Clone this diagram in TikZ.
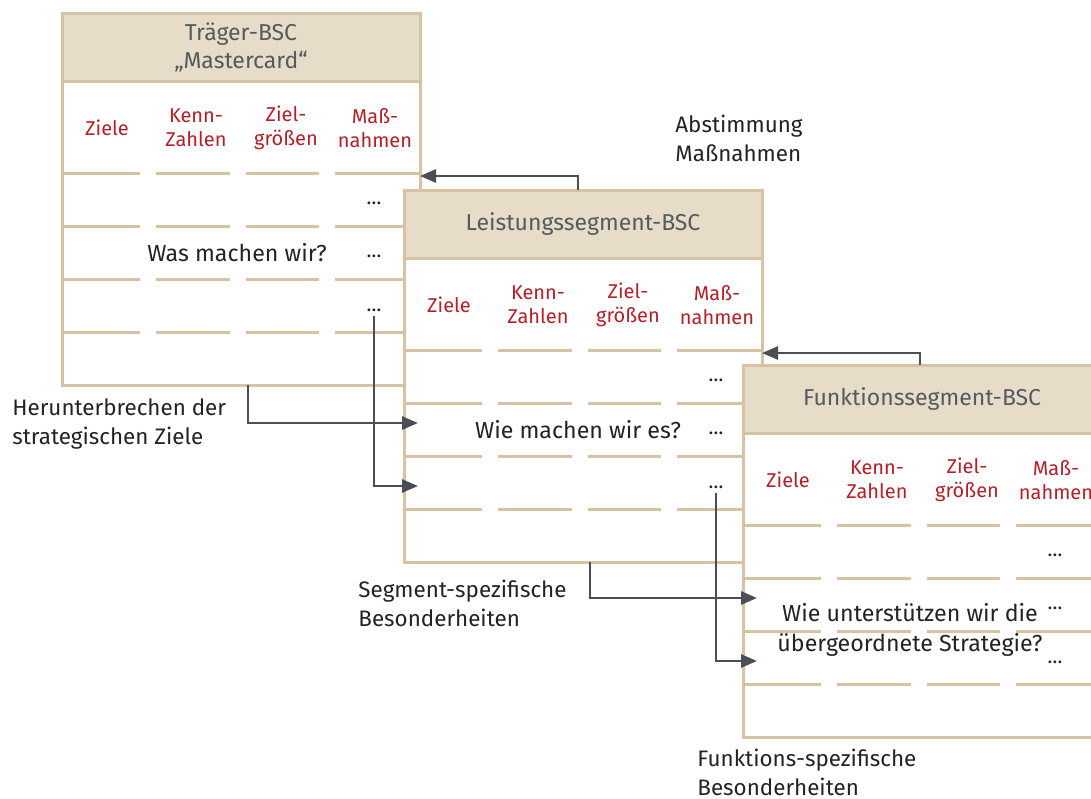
\documentclass[tikz,border=0pt]{standalone}
\usepackage{fontspec}
\setmainfont{Fira Sans}
\usepackage{xcolor}
\usepackage{tikz}
\usetikzlibrary{positioning,arrows.meta}
\definecolor{bscsand}{RGB}{215,194,163}
\definecolor{bschead}{RGB}{231,220,200}
\definecolor{bscred}{RGB}{180,32,40}
\definecolor{bscgray}{RGB}{85,90,96}
\definecolor{bscdark}{RGB}{35,35,35}
\definecolor{arrgray}{RGB}{74,79,85}
\tikzset{
  cardhead/.style={draw=bscsand, line width=1.5pt, fill=bschead, anchor=north west, outer sep=0pt, minimum width=179pt, minimum height=34pt, align=center, text=bscgray, font=\fontsize{11.5}{14}\selectfont},
  cardbody/.style={draw=bscsand, line width=1.5pt, fill=white, anchor=north west, outer sep=0pt, minimum width=179pt, minimum height=152pt},
  rowline/.style={draw=bscsand, line width=1.5pt},
  collabel/.style={align=center, text=bscred, font=\fontsize{10}{12}\selectfont},
  dotsnode/.style={text=bscdark, font=\fontsize{10}{12}\selectfont, inner sep=2pt},
  midtext/.style={align=center, text=bscdark, font=\fontsize{11.6}{15}\selectfont},
  note/.style={align=left, anchor=west, text=bscdark, font=\fontsize{11.2}{14.5}\selectfont, inner sep=0pt},
  arr/.style={-{Triangle[length=8pt,width=6.5pt]}, line width=1.4pt, draw=arrgray},
}
% one scorecard: name, x, y, title
\newcommand{\bsccard}[4]{%
  \begin{scope}[shift={(#2,#3)}]
    \node[cardbody] (#1-body) at (0,68) {};
    \node[cardhead] (#1) at (0,0) {#4};
    \foreach \ry in {160,213,266,319}
      \foreach \xa/\xb in {0/78,94/168,184/257,273/358}
        \draw[rowline] (\xa,\ry) -- (\xb,\ry);
    \node[collabel] at (45,115) {Ziele};
    \node[collabel] at (134,115) {Kenn-\\Zahlen};
    \node[collabel] at (224,115) {Ziel-\\größen};
    \node[collabel] at (313,115) {Maß-\\nahmen};
    \node[dotsnode] (#1-dots1) at (312,190) {\ldots};
    \node[dotsnode] (#1-dots2) at (312,243) {\ldots};
    \node[dotsnode] (#1-dots3) at (312,297) {\ldots};
    \coordinate (#1-back) at (358,163);
    \coordinate (#1-in1) at (14,233);
    \coordinate (#1-in2) at (14,296);
  \end{scope}}

\begin{document}
\begin{tikzpicture}[x=0.5pt,y=-0.5pt]
  \useasboundingbox (0,0) rectangle (1091,798);

  \bsccard{traeger}{62}{13}{Träger-BSC\\„Mastercard“}
  \bsccard{leistung}{404}{190}{Leistungssegment-BSC}
  \bsccard{funktion}{743}{365}{Funktionssegment-BSC}

  \node[midtext] (was) at (237,253) {Was machen wir?};
  \node[midtext] (wie) at (578,430) {Wie machen wir es?};
  \node[midtext] (unterst) at (910,630) {Wie unterstützen wir die\\übergeordnete Strategie?};

  \node[note] (abstimmung) at (675,138) {Abstimmung\\Maßnahmen};
  \node[note] (herunter) at (12,424) {Herunterbrechen der\\strategischen Ziele};
  \node[note] (segspez) at (358,603) {Segment-spezifische\\Besonderheiten};
  \node[note] (funkspez) at (697,772) {Funktions-spezifische\\Besonderheiten};

  \draw[arr] ([xshift=-2.5pt]leistung.north) |- (traeger-back);
  \draw[arr] ([xshift=-1pt]funktion.north) |- (leistung-back);
  \draw[arr] ([xshift=3.5pt]traeger-body.south) |- (leistung-in1);
  \draw[arr] (traeger-dots3.south) |- (leistung-in2);
  \draw[arr] ([xshift=3.5pt]leistung-body.south) |- (funktion-in1);
  \draw[arr] (leistung-dots3.south) |- (funktion-in2);
\end{tikzpicture}
\end{document}
